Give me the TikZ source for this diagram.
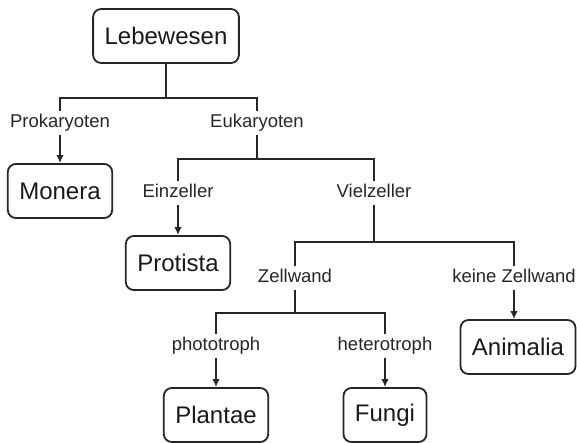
\documentclass[tikz,border=0pt]{standalone}
\usepackage{fontspec}
\setmainfont{Liberation Sans}
\usetikzlibrary{arrows.meta}

\begin{document}
\begin{tikzpicture}[x=1pt,y=-1pt,
    box/.style={draw=black!85,text=black!90,line width=1.8pt,rounded corners=8pt,
      inner xsep=11.5pt,minimum height=54pt,font=\fontsize{24}{28}\selectfont},
    lab/.style={text=black!85,inner sep=3pt,text height=13.5pt,text depth=3.9pt,
      font=\fontsize{18.5}{22}\selectfont}]
  \useasboundingbox (0,0) rectangle (577,443);
  \draw
    (166,36) node[box] (leb){Lebewesen}
    (60,123) node[lab] (prok){Prokaryoten}
    (257,123) node[lab] (euk){Eukaryoten}
    (60,191) node[box] (mon){Monera}
    (178,193) node[lab] (einz){Einzeller}
    (374,193) node[lab] (viel){Vielzeller}
    (178,263) node[box] (prot){Protista}
    (295,278) node[lab] (zell){Zellwand}
    (514,278) node[lab] (keine){keine Zellwand}
    (518,347) node[box] (ani){Animalia}
    (216,346) node[lab] (photo){phototroph}
    (385,346) node[lab] (hetero){heterotroph}
    (216,415) node[box] (plant){Plantae}
    (385,415) node[box] (fungi){Fungi};
  \begin{scope}[draw=black!85,line width=2.2pt]
    \draw (leb.south) -- ++(0,34) -| (prok.north);
    \draw (leb.south) -- ++(0,34) -| (euk.north);
    \draw (euk.south) -- ++(0,24) -| (einz.north);
    \draw (euk.south) -- ++(0,24) -| (viel.north);
    \draw (viel.south) -- ++(0,37) -| (zell.north);
    \draw (viel.south) -- ++(0,37) -| (keine.north);
    \draw (zell.south) -- ++(0,23) -| (photo.north);
    \draw (zell.south) -- ++(0,23) -| (hetero.north);
  \end{scope}
  \begin{scope}[draw=black!85,line width=2pt,-{Latex[length=8pt,width=7.5pt]}]
    \draw (prok) -- (mon);
    \draw (einz) -- (prot);
    \draw (keine.south) -- (keine.south |- ani.north);
    \draw (photo) -- (plant);
    \draw (hetero) -- (fungi);
  \end{scope}
\end{tikzpicture}
\end{document}
